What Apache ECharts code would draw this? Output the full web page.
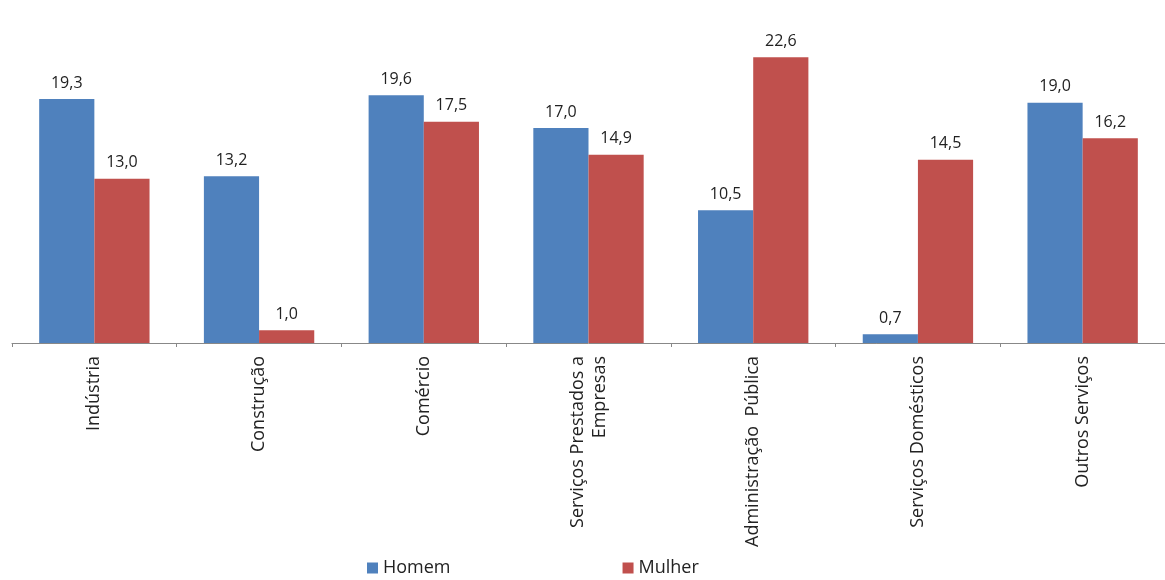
<!DOCTYPE html>
<html>
<head>
<meta charset="utf-8">
<script src="https://cdn.jsdelivr.net/npm/echarts@6/dist/echarts.min.js"></script>
<style>
  html, body { margin: 0; padding: 0; background: #fff; }
  #chart { width: 1165px; height: 580px; }
</style>
</head>
<body>
<div id="chart"></div>
<script>
const categories = [
  "Indústria",
  "Construção",
  "Comércio",
  "Serviços Prestados a\nEmpresas",
  "Administração  Pública",
  "Serviços Domésticos",
  "Outros Serviços",
];
const homem = [19.3, 13.2, 19.6, 17.0, 10.5, 0.7, 19.0];
const mulher = [13.0, 1.0, 17.5, 14.9, 22.6, 14.5, 16.2];

const font = "'Open Sans', 'Noto Sans', sans-serif";
const fmt = (p) => p.value.toFixed(1).replace(".", ",");

const valueLabel = {
  show: true,
  position: "top",
  distance: 8,
  fontSize: 16,
  color: "#222",
  fontFamily: font,
  formatter: fmt,
};

const chart = echarts.init(document.getElementById("chart"));
chart.setOption({
  animation: false,
  textStyle: { fontFamily: font },
  legend: {
    bottom: -2,
    left: 362,
    itemGap: 172,
    itemWidth: 11,
    itemHeight: 11,
    icon: "rect",
    textStyle: { fontSize: 18, color: "#222", fontFamily: font },
    data: ["Homem", "Mulher"],
  },
  grid: { left: 12, top: 27, width: 1155, height: 316 },
  xAxis: {
    type: "category",
    data: categories,
    axisLine: { lineStyle: { color: "#888", width: 1 } },
    axisTick: { show: true, length: 4, lineStyle: { color: "#888" } },
    axisLabel: {
      rotate: 90,
      interval: 0,
      margin: 13,
      fontSize: 18,
      color: "#222",
      lineHeight: 22,
      fontFamily: font,
    },
  },
  yAxis: {
    type: "value",
    min: 0,
    max: 25,
    show: false,
    splitLine: { show: false },
  },
  series: [
    {
      name: "Homem",
      type: "bar",
      data: homem,
      barGap: "0%",
      barCategoryGap: "33%",
      itemStyle: { color: "#4f81bd" },
      label: valueLabel,
    },
    {
      name: "Mulher",
      type: "bar",
      data: mulher,
      itemStyle: { color: "#c0504d" },
      label: valueLabel,
    },
  ],
});
</script>
</body>
</html>
